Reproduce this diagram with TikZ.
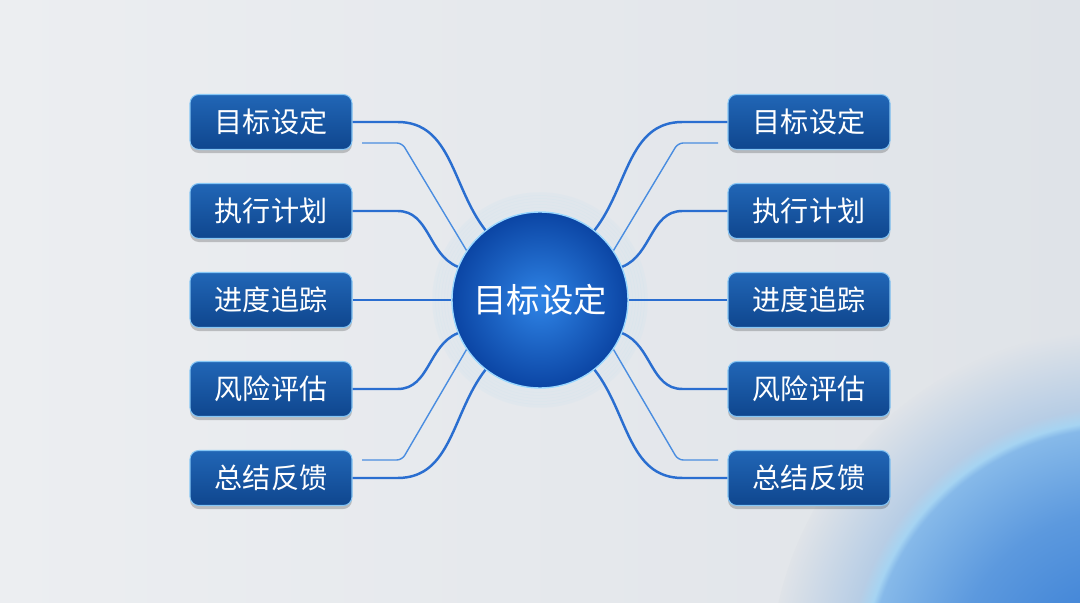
\documentclass[tikz,border=0pt]{standalone}
\usepackage{fontspec}
\newfontfamily\cjk{Noto Sans CJK SC}
\usetikzlibrary{shadows}

\definecolor{bgleft}{HTML}{ECEEF1}
\definecolor{bgright}{HTML}{DFE3E8}
\definecolor{boxtop}{HTML}{2166B6}
\definecolor{boxbot}{HTML}{0F468E}
\definecolor{boxedge}{HTML}{86C6F5}
\definecolor{linkblue}{HTML}{2A6ED0}
\definecolor{linkthin}{HTML}{4A8DE0}
\definecolor{hubin}{HTML}{2F84E6}
\definecolor{hubout}{HTML}{0B45A4}
\definecolor{hubedge}{HTML}{9AD8FF}
\definecolor{glowdeep}{HTML}{2E76D2}
\definecolor{glowmid}{HTML}{5C99DE}
\definecolor{glowin}{HTML}{86B9E9}
\definecolor{glowrim}{HTML}{A6D4F2}
\definecolor{glowhalo}{HTML}{B7CDE5}

\pgfdeclareradialshading{cornerglow}{\pgfpointorigin}{color(0bp)=(glowdeep); color(12bp)=(glowmid); color(18bp)=(glowin); color(18.5bp)=(glowrim); color(19.5bp)=(glowhalo); color(25bp)=(bgright); color(50bp)=(bgright)}

\tikzset{
  topic/.style={draw=boxedge, line width=0.6pt, rounded corners=5pt,
    top color=boxtop, bottom color=boxbot,
    minimum width=3.24cm, minimum height=1.1cm, text=white,
    font=\cjk\fontsize{16}{19}\selectfont,
    drop shadow={shadow xshift=0pt, shadow yshift=-2pt, opacity=.2, fill=black}},
  hub/.style={circle, draw=hubedge, line width=0.8pt, minimum size=3.52cm,
    inner color=hubin, outer color=hubout, text=white,
    font=\cjk\fontsize{19}{22}\selectfont},
  link/.style={draw=linkblue, line width=1.4pt},
  thinlink/.style={draw=linkthin, line width=0.8pt}
}

\begin{document}
\begin{tikzpicture}
\useasboundingbox (0,0) rectangle (21.6,12.04);
% backdrop and corner glow
\begin{scope}
\clip (0,0) rectangle (21.6,12.04);
\shade[left color=bgleft, right color=bgright] (0,0) rectangle (21.6,12.04);
\shade[shading=cornerglow] (22.4,-1.56) circle (7);
\end{scope}
% centre
\node[hub] (c) at (10.8,6.04) {目标设定};
\foreach \r in {1,...,6}
  \draw[cyan!60, opacity=0.04, line width=2pt] (c.center) circle ({1.76+\r*0.06});
% topics on both sides
\foreach \i/\y/\lab in {1/9.6/目标设定, 2/7.82/执行计划, 3/6.04/进度追踪, 4/4.26/风险评估, 5/2.48/总结反馈} {
  \node[topic] (l\i) at (5.42,\y) {\lab};
  \node[topic] (r\i) at (16.18,\y) {\lab};
}
% links
\foreach \i/\a in {1/128, 2/158, 4/202, 5/232} {
  \pgfmathtruncatemacro\b{180-\a}
  \draw[link] (l\i.east) -- ++(0.9,0) to[out=0, in=\a] (c.\a);
  \draw[link] (r\i.west) -- ++(-0.9,0) to[out=180, in=\b] (c.\b);
}
\draw[link] (l3) -- (c);
\draw[link] (r3) -- (c);
% thin side strokes
\coordinate (tl1) at (7.24,9.18);
\coordinate (tl2) at (7.24,2.84);
\coordinate (tr1) at (14.36,9.18);
\coordinate (tr2) at (14.36,2.84);
\draw[thinlink, rounded corners=3pt] (tl1) -- ++(0.8,0) -- (c.146);
\draw[thinlink, rounded corners=3pt] (tl2) -- ++(0.8,0) -- (c.214);
\draw[thinlink, rounded corners=3pt] (tr1) -- ++(-0.8,0) -- (c.34);
\draw[thinlink, rounded corners=3pt] (tr2) -- ++(-0.8,0) -- (c.-34);
\end{tikzpicture}
\end{document}
